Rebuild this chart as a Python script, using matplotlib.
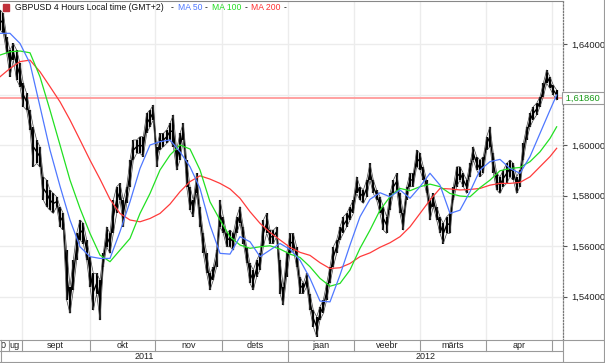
import matplotlib
matplotlib.use("Agg")
import matplotlib.pyplot as plt
from matplotlib.patches import Rectangle
from matplotlib.lines import Line2D

plt.rcParams['font.family'] = ['Liberation Sans', 'DejaVu Sans']

# GBPUSD 4h price band at evenly spaced points (high / low)
high = [1.6535, 1.6522, 1.6430, 1.6377, 1.6403, 1.6377, 1.6324, 1.6245, 1.6205, 1.6139,
        1.6073, 1.6021, 1.5994, 1.5875, 1.5862, 1.5823, 1.5809, 1.5796, 1.5757, 1.5730,
        1.5585, 1.5440, 1.5545, 1.5651, 1.5704, 1.5691, 1.5625, 1.5559, 1.5493, 1.5493,
        1.5466, 1.5572, 1.5677, 1.5651, 1.5783, 1.5836, 1.5849, 1.5783, 1.5836, 1.5941,
        1.6021, 1.6021, 1.6034, 1.6034, 1.6126, 1.6139, 1.6159, 1.5994, 1.6047, 1.6047,
        1.6060, 1.6087, 1.6120, 1.5981, 1.6047, 1.6087, 1.5941, 1.5836, 1.5783,
        1.5889, 1.5757, 1.5651, 1.5572, 1.5493, 1.5519, 1.5585, 1.5783, 1.5717, 1.5651,
        1.5664, 1.5651, 1.5717, 1.5757, 1.5677, 1.5598, 1.5532, 1.5506, 1.5545, 1.5572,
        1.5704, 1.5730, 1.5664, 1.5664, 1.5677, 1.5545, 1.5440, 1.5572,
        1.5651, 1.5651, 1.5598, 1.5479, 1.5453, 1.5493, 1.5413, 1.5347, 1.5321, 1.5361,
        1.5387, 1.5453, 1.5519, 1.5598, 1.5625, 1.5677, 1.5717, 1.5730, 1.5757, 1.5783,
        1.5875, 1.5836, 1.5823, 1.5862, 1.5928, 1.5862, 1.5823, 1.5796, 1.5757,
        1.5717, 1.5809, 1.5862, 1.5889, 1.5809, 1.5730, 1.5836, 1.5889, 1.5889, 1.5981,
        1.5968, 1.5915, 1.5862, 1.5783, 1.5809, 1.5757, 1.5717, 1.5691, 1.5717, 1.5730,
        1.5836, 1.5915, 1.5915, 1.5889, 1.5862, 1.5928, 1.5994, 1.5955,
        1.5941, 1.5955, 1.6034, 1.6073, 1.5968, 1.5889, 1.5875, 1.5902, 1.5928, 1.5941,
        1.5928, 1.5875, 1.5902, 1.6007, 1.6073, 1.6126, 1.6153, 1.6166, 1.6192, 1.6245,
        1.6298, 1.6271, 1.6238, 1.6219]
low = [1.6456, 1.6443, 1.6364, 1.6271, 1.6337, 1.6258, 1.6232, 1.6153, 1.6139, 1.6060,
       1.5915, 1.5928, 1.5915, 1.5783, 1.5757, 1.5743, 1.5730, 1.5757, 1.5677, 1.5664,
       1.5387, 1.5334, 1.5427, 1.5545, 1.5625, 1.5611, 1.5545, 1.5440, 1.5347, 1.5413,
       1.5308, 1.5519, 1.5598, 1.5572, 1.5651, 1.5730, 1.5783, 1.5677, 1.5770, 1.5836,
       1.5941, 1.5968, 1.5968, 1.5955, 1.6047, 1.6073, 1.6100, 1.5915, 1.5981, 1.5994,
       1.6007, 1.6021, 1.5994, 1.5902, 1.5941, 1.6021, 1.5836, 1.5743, 1.5717,
       1.5809, 1.5677, 1.5572, 1.5493, 1.5427, 1.5466, 1.5519, 1.5677, 1.5651, 1.5598,
       1.5598, 1.5585, 1.5651, 1.5691, 1.5611, 1.5532, 1.5453, 1.5427, 1.5479, 1.5506,
       1.5598, 1.5651, 1.5611, 1.5611, 1.5638, 1.5413, 1.5367, 1.5479,
       1.5572, 1.5585, 1.5519, 1.5413, 1.5413, 1.5440, 1.5347, 1.5281, 1.5242, 1.5308,
       1.5334, 1.5387, 1.5453, 1.5519, 1.5572, 1.5625, 1.5651, 1.5677, 1.5704, 1.5730,
       1.5809, 1.5783, 1.5770, 1.5796, 1.5862, 1.5809, 1.5783, 1.5730, 1.5664,
       1.5651, 1.5743, 1.5809, 1.5823, 1.5730, 1.5664, 1.5783, 1.5836, 1.5836, 1.5915,
       1.5902, 1.5862, 1.5809, 1.5704, 1.5757, 1.5704, 1.5651, 1.5611, 1.5651, 1.5651,
       1.5783, 1.5836, 1.5862, 1.5836, 1.5809, 1.5875, 1.5941, 1.5902,
       1.5875, 1.5889, 1.5981, 1.5994, 1.5889, 1.5823, 1.5809, 1.5836, 1.5849, 1.5875,
       1.5862, 1.5809, 1.5836, 1.5941, 1.6021, 1.6073, 1.6100, 1.6120, 1.6153, 1.6192,
       1.6245, 1.6225, 1.6199, 1.6179]
last_price = 1.6186

# moving averages, read every third sample
ma_pos = list(range(0, 166, 3)) + [167]
ma50 = [1.6443, 1.6443, 1.6403, 1.6324, 1.6153, 1.5981, 1.5838, 1.5704, 1.5598, 1.5559,
        1.5552, 1.5552, 1.5658, 1.5776, 1.5908, 1.6001, 1.6014, 1.6021, 1.5974, 1.5915,
        1.5829, 1.5684, 1.5572, 1.5569, 1.5638, 1.5618, 1.5559, 1.5585, 1.5611, 1.5588,
        1.5545, 1.5473, 1.5383, 1.5380, 1.5486, 1.5605, 1.5717, 1.5786, 1.5812, 1.5796,
        1.5823, 1.5790, 1.5836, 1.5889, 1.5842, 1.5730, 1.5743, 1.5816, 1.5902, 1.5935,
        1.5944, 1.5908, 1.5889, 1.5955, 1.6047, 1.6139, 1.6199]
ma100 = [1.6357, 1.6370, 1.6373, 1.6366, 1.6271, 1.6139, 1.6001, 1.5862, 1.5750, 1.5651,
         1.5565, 1.5539, 1.5585, 1.5631, 1.5730, 1.5809, 1.5902, 1.5961, 1.6001, 1.5985,
         1.5902, 1.5776, 1.5704, 1.5638, 1.5605, 1.5592, 1.5598, 1.5602, 1.5589, 1.5569,
         1.5556, 1.5519, 1.5473, 1.5442, 1.5453, 1.5506, 1.5592, 1.5664, 1.5743, 1.5796,
         1.5829, 1.5820, 1.5836, 1.5846, 1.5836, 1.5809, 1.5799, 1.5796, 1.5832, 1.5862,
         1.5899, 1.5908, 1.5912, 1.5935, 1.5974, 1.6027, 1.6073]
ma200 = [1.6271, 1.6304, 1.6331, 1.6337, 1.6291, 1.6232, 1.6172, 1.6100, 1.6021, 1.5941,
         1.5866, 1.5786, 1.5730, 1.5704, 1.5697, 1.5710, 1.5730, 1.5767, 1.5816, 1.5856,
         1.5879, 1.5866, 1.5849, 1.5827, 1.5790, 1.5737, 1.5691, 1.5655, 1.5625, 1.5596,
         1.5576, 1.5564, 1.5535, 1.5512, 1.5515, 1.5532, 1.5559, 1.5574, 1.5596, 1.5614,
         1.5638, 1.5677, 1.5730, 1.5783, 1.5829, 1.5827, 1.5823, 1.5825, 1.5829, 1.5842,
         1.5849, 1.5849, 1.5853, 1.5875, 1.5915, 1.5955, 1.5988]

# month boundaries (in sample units) and labels
month_start = [6.45, 26.9, 46.5, 66.6, 86.4, 106.2, 126.0, 145.8, 165.6]
month_names = ['sept', 'okt', 'nov', 'dets', 'jaan', 'veebr', 'märts', 'apr', '']
years = ['2011', '2012']
price_ticks = [1.54, 1.56, 1.58, 1.60, 1.62, 1.64]

W, H = 605, 363
fig = plt.figure(figsize=(W / 100, H / 100), dpi=100)
xmax = 168.9
grid_c = '#ececec'
frame_c = '#9a9a9a'

ax = fig.add_axes([0, 23 / H, 563 / W, 339 / H])
ax.set_xlim(0, xmax)
ax.set_ylim(1.5229, 1.6571)

# grid
for p in price_ticks:
    ax.axhline(p, color=grid_c, lw=1, zorder=0)
for m in month_start:
    ax.axvline(m, color=grid_c, lw=1, zorder=0)

# price bars
idx = list(range(len(high)))
mid = [(h + l) / 2 for h, l in zip(high, low)]
ax.vlines(idx, low, high, color='black', lw=1.6, zorder=2)
ax.plot(idx, mid, color='black', lw=1.0, zorder=2)
ax.plot(idx, high, color='#444444', lw=0.5, zorder=2)
ax.plot(idx, low, color='#444444', lw=0.5, zorder=2)

# last price line
ax.axhline(last_price, color='#ff9a9a', lw=1.3, zorder=1)

# moving averages
ax.plot(ma_pos, ma200, color='#ff3b3b', lw=0.9, zorder=3)
ax.plot(ma_pos, ma100, color='#22e022', lw=0.9, zorder=3)
ax.plot(ma_pos, ma50, color='#4f78ff', lw=0.9, zorder=3)

# axes styling
ax.set_xticks([])
ax.yaxis.tick_right()
ax.set_yticks(price_ticks)
# the 1,62000 label sits behind the current-price box in the original
ax.set_yticklabels(['' if p == 1.62 else f"{p:.5f}".replace('.', ',') for p in price_ticks])
ax.tick_params(axis='y', length=3, width=0.8, color='#555555', labelsize=6.8, pad=3,
               labelcolor='#222222')
for s in ['left', 'bottom']:
    ax.spines[s].set_visible(False)
ax.spines['top'].set_color('#888888')
ax.spines['right'].set_color('#777777')
ax.spines['right'].set_linestyle((0, (1, 1.5)))
ax.spines['right'].set_linewidth(0.9)

# current price box
ax.text(1.0, last_price, ' 1,61860 ', transform=ax.get_yaxis_transform(),
        ha='left', va='center', fontsize=6.8, color='#1a9a1a', zorder=10, clip_on=False,
        bbox=dict(boxstyle='square,pad=0.15', fc='white', ec='#999999', lw=0.8))

# time axis rows
axb = fig.add_axes([0, 1 / H, 563 / W, 22 / H])
axb.set_xlim(0, xmax)
axb.set_ylim(0, 2)
axb.axis('off')
axb.axhline(1, color=frame_c, lw=0.8)
bounds = [0] + month_start + [xmax]
for m in month_start:
    axb.plot([m, m], [1, 2], color=frame_c, lw=0.8)
axb.plot([month_start[4], month_start[4]], [0, 1], color=frame_c, lw=0.8)
axb.plot([2.55, 2.55], [1, 2], color=frame_c, lw=0.8)
axb.text(1.6, 1.5, '0', ha='right', va='center', fontsize=6.5, color='#222222')
axb.text(2.7, 1.5, 'ug', ha='left', va='center', fontsize=6.5, color='#222222')
for i, name in enumerate(month_names):
    axb.text((bounds[i + 1] + bounds[i + 2]) / 2, 1.5, name, ha='center', va='center',
             fontsize=6.5, color='#222222')
axb.text(month_start[4] / 2, 0.5, years[0], ha='center', va='center', fontsize=6.5,
         color='#222222')
axb.text((month_start[4] + xmax) / 2, 0.5, years[1], ha='center', va='center',
         fontsize=6.5, color='#222222')

# outer frame lines
fig.add_artist(Line2D([0, 1], [23 / H, 23 / H], color=frame_c, lw=0.8))
fig.add_artist(Line2D([0, 1], [1 / H, 1 / H], color=frame_c, lw=0.8))
fig.add_artist(Line2D([0.5 / W, 0.5 / W], [1 / H, 23 / H], color=frame_c, lw=0.8))
fig.add_artist(Line2D([1 - 1 / W, 1 - 1 / W], [1 / H, 1], color=frame_c, lw=0.8))
fig.add_artist(Line2D([563 / W, 563 / W], [1 / H, 23 / H], color=frame_c, lw=0.8))

# header: icon + title + MA legend (x positions in pixels)
fig.add_artist(Rectangle((3 / W, 1 - 11 / H), 6 / W, 7 / H, color='#c0303a',
                         transform=fig.transFigure))
parts = [(15, 'GBPUSD 4 Hours Local time (GMT+2)', '#111111'),
         (171, '-', '#111111'), (178, 'MA 50', '#4f78ff'),
         (205, '-', '#111111'), (212, 'MA 100', '#22dd22'),
         (245, '-', '#111111'), (251, 'MA 200', '#ff3030'),
         (284, '-', '#111111')]
for x0, txt, col in parts:
    fig.text(x0 / W, 1 - 7.5 / H, txt, ha='left', va='center', fontsize=6.2, color=col)

fig.savefig('out.png', dpi=100)
